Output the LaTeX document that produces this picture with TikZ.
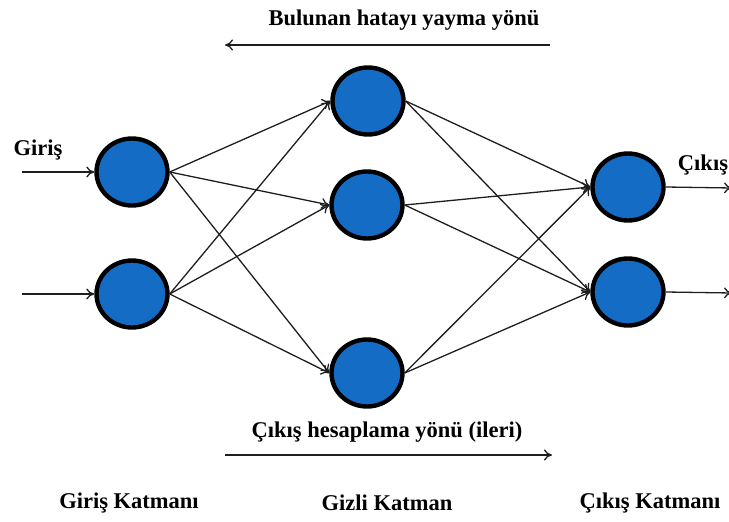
\documentclass[tikz,border=0pt]{standalone}
\usepackage{fontspec}
\setmainfont{Liberation Serif}
\usetikzlibrary{arrows.meta,shapes.geometric}

\begin{document}
\begin{tikzpicture}
[x=1pt,y=-1pt,
  nodeDecorate/.style={shape=ellipse,minimum width=71pt,minimum height=67pt,inner sep=0pt,draw=black,line width=4.4pt,fill={rgb,255:red,20;green,108;blue,196}},%
  lineDecorate/.style={-{To[length=8pt,width=11pt]},line width=1.3pt,draw={rgb,255:red,30;green,30;blue,30}},
  textDecorate/.style={font=\bfseries\fontsize{22.5}{26}\selectfont,inner sep=0pt}]
\useasboundingbox (0,0) rectangle (729,522);
%% nodes or vertices
\foreach \nodename/\x/\y in {i1/132/172, i2/132/294,
  h1/368/101, h2/367/205, h3/367/373,
  o1/628/187, o2/628/292} {
  \node (\nodename) at (\x,\y) [nodeDecorate] {};
}
%% free ends of the outer arrows
\coordinate (in1) at (22,172);
\coordinate (in2) at (22,294);
\coordinate (out1) at (732,188);
\coordinate (out2) at (732,293);
%% edges or lines
\path
\foreach \startnode/\endnode in {i1/h1, i1/h2, i1/h3, i2/h1, i2/h2, i2/h3,
  h1/o1, h1/o2, h2/o1, h2/o2, h3/o1, h3/o2} {
  (\startnode.east) edge[lineDecorate] (\endnode.west)
};
\path
\foreach \startnode/\endnode in {in1/i1, in2/i2} {
  (\startnode) edge[lineDecorate] (\endnode.west)
};
\path
\foreach \startnode/\endnode in {o1/out1, o2/out2} {
  (\startnode.east) edge[lineDecorate] (\endnode)
};
%% directions
\coordinate (back1) at (550,45);
\coordinate (back2) at (225,45);
\coordinate (fwd1) at (225,455);
\coordinate (fwd2) at (552,455);
\draw[lineDecorate] (back1) -- (back2);
\draw[lineDecorate] (fwd1) -- (fwd2);
\node (backtext) at (404,20) [textDecorate] {Bulunan hatayı yayma yönü};
\node (fwdtext) at (387,432) [textDecorate] {Çıkış hesaplama yönü (ileri)};
%% labels
\node (ingiris) at (38,150) [textDecorate] {Giriş};
\node (outcikis) at (703,165) [textDecorate] {Çıkış};
\node (ilayer) at (129,503) [textDecorate] {Giriş Katmanı};
\node (hlayer) at (387,503) [textDecorate] {Gizli Katman};
\node (olayer) at (650,503) [textDecorate] {Çıkış Katmanı};
\end{tikzpicture}
\end{document}
